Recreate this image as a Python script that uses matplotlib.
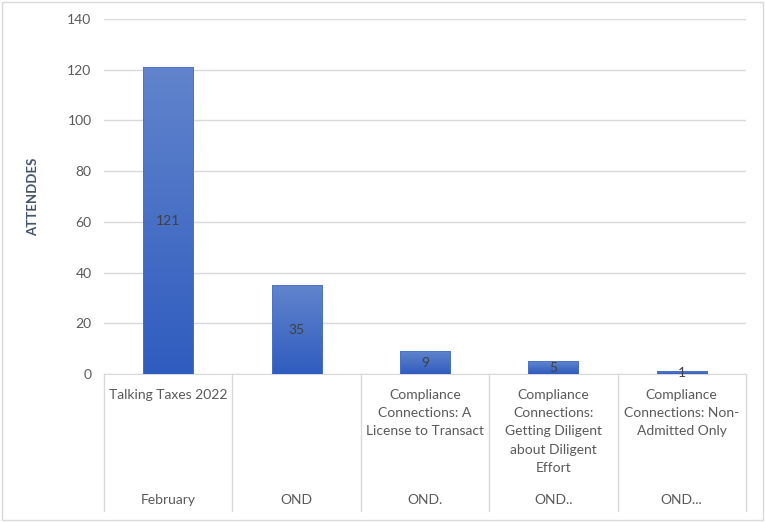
import numpy as np
import matplotlib.pyplot as plt
from matplotlib.patches import Rectangle
from matplotlib.colors import LinearSegmentedColormap
from matplotlib.transforms import blended_transform_factory

sessions = ["Talking Taxes 2022", "",
            "Compliance\nConnections: A\nLicense to Transact",
            "Compliance\nConnections:\nGetting Diligent\nabout Diligent\nEffort",
            "Compliance\nConnections: Non-\nAdmitted Only"]
groups = ["February", "OND", "OND.", "OND..", "OND..."]
attendees = [121, 35, 9, 5, 1]
yticks = [0, 20, 40, 60, 80, 100, 120, 140]

plt.rcParams['font.family'] = ['Lato', 'DejaVu Sans']
tick_color = "#595959"

fig = plt.figure(figsize=(7.65, 5.22), dpi=100)
ax = fig.add_axes([0.136, 0.2835, 0.839, 0.680])

x = np.arange(len(attendees))
width = 0.39
bars = ax.bar(x, attendees, width=width, color="none", edgecolor="none", zorder=3)

# vertical gradient fill, light at top, darker at bottom
grad = np.linspace(0, 1, 256).reshape(-1, 1)
cmap = LinearSegmentedColormap.from_list("bar", ["#2F5CBF", "#6184CC"])
for b in bars:
    x0, y0 = b.get_x(), b.get_y()
    w, h = b.get_width(), b.get_height()
    im = ax.imshow(grad, cmap=cmap, aspect="auto", origin="lower",
                   extent=[x0, x0 + w, y0, y0 + h], zorder=3)
    im.set_clip_path(b)
    ax.add_patch(Rectangle((x0, y0), w, h, fill=False, edgecolor="#4A72C4",
                           linewidth=0.6, zorder=4))

for xi, v in zip(x, attendees):
    ax.text(xi, v / 2, str(v), ha="center", va="center", fontsize=10,
            color="#404040", zorder=5)

ax.set_xlim(-0.5, len(attendees) - 0.5)
ax.set_ylim(0, 140)
ax.set_yticks(yticks)
ax.set_yticklabels([str(t) for t in yticks], fontsize=10, color=tick_color)
ax.tick_params(axis="y", length=0, pad=9)
ax.set_xticks([])
ax.grid(axis="y", color="#D9D9D9", linewidth=1, zorder=0)
for s in ["top", "right", "left"]:
    ax.spines[s].set_visible(False)
ax.spines["bottom"].set_color("#D9D9D9")

ax.set_ylabel("ATTENDDES", fontsize=9.5, fontweight="bold", color="#44546A",
              labelpad=20)

# multi-level category axis
trans = blended_transform_factory(ax.transData, ax.transAxes)
for k in range(len(attendees) + 1):
    ax.plot([k - 0.5, k - 0.5], [0, -0.385], transform=trans, color="#D9D9D9",
            linewidth=1, clip_on=False)
for xi, s, g in zip(x, sessions, groups):
    ax.text(xi, -0.042, s, transform=trans, ha="center", va="top", fontsize=10,
            color=tick_color, linespacing=1.62)
    ax.text(xi, -0.355, g, transform=trans, ha="center", va="center",
            fontsize=10, color=tick_color)

fig.patches.append(Rectangle((0.003, 0.004), 0.994, 0.992, transform=fig.transFigure,
                             fill=False, edgecolor="#D9D9D9", linewidth=1))

fig.savefig("out.png", dpi=100)
